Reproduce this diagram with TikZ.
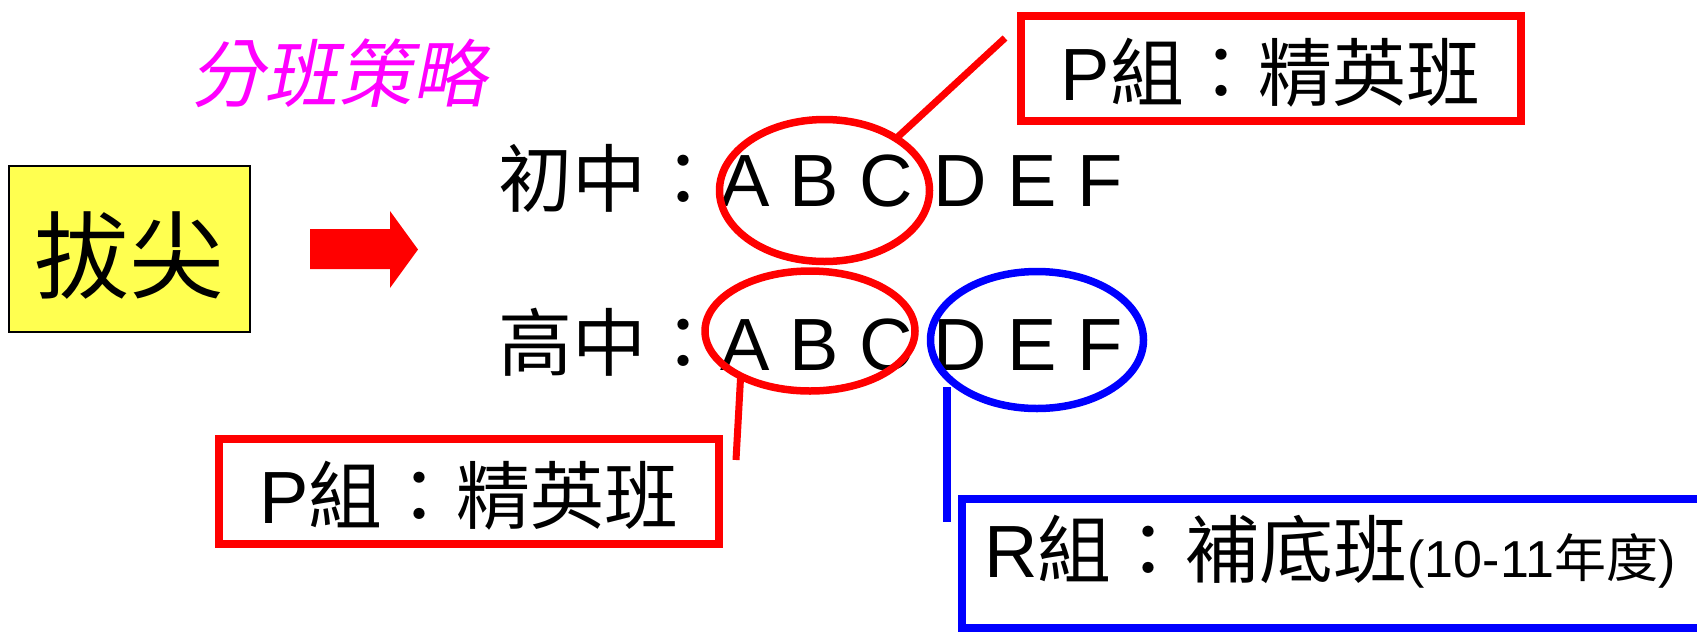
\documentclass[tikz,border=0pt]{standalone}
\usepackage{fontspec}
\setmainfont{Liberation Sans}
\newfontfamily\cjk{Noto Sans CJK TC}
\newfontfamily\cjkit[FakeSlant=0.2]{Noto Sans CJK TC}
\usetikzlibrary{shapes.geometric}
\definecolor{pyellow}{RGB}{255,255,80}
\definecolor{pmagenta}{RGB}{255,0,255}
\definecolor{pred}{RGB}{255,0,0}
\definecolor{pblue}{RGB}{0,0,255}
\tikzset{
  redbox/.style={draw=pred, line width=8pt, minimum width=500pt, minimum height=105pt,
    inner sep=0pt, outer sep=0pt, text height=64pt, text depth=0pt,
    font=\fontsize{74}{74}\selectfont},
  rowtext/.style={anchor=base west, inner sep=0pt, outer sep=0pt,
    font=\fontsize{74}{74}\selectfont},
  ringred/.style={ellipse, draw=pred, line width=7.5pt, inner sep=0pt, outer sep=0pt},
  ringblue/.style={ellipse, draw=pblue, line width=7.5pt, inner sep=0pt, outer sep=0pt},
  redline/.style={draw=pred, line width=7pt},
  blueline/.style={draw=pblue, line width=8pt},
}
\begin{document}
\begin{tikzpicture}[x=1pt,y=-1pt]
\clip (0,0) rectangle (1697,633);
% left box
\node[draw=black, line width=2.5pt, fill=pyellow, minimum width=241pt, minimum height=166pt,
  inner sep=0pt, outer sep=0pt, text height=84pt, text depth=0pt,
  font=\cjk\fontsize{95}{95}\selectfont] (bajian) at (129.5,249) {拔尖};
% title
\node[anchor=base west, inner sep=0pt, text=pmagenta, font=\cjkit\fontsize{74}{74}\selectfont]
  (title) at (190,101) {分班策略};
% block arrow
\fill[pred] (310,229) -- (390,229) -- (390,211) -- (418,249.5) -- (390,288) -- (390,269) -- (310,269) -- cycle;
% rows
\node[rowtext] (row1) at (498,206) {{\cjk 初中：}A B C D E F};
\node[rowtext] (row2) at (498,370) {{\cjk 高中：}A B C D E F};
% rings
\node[ringred, minimum width=210pt, minimum height=142pt] (e1) at (824.5,190.5) {};
\node[ringred, minimum width=210pt, minimum height=120pt] (e2) at (810,331) {};
\node[ringblue, minimum width=213pt, minimum height=137pt] (e3) at (1037,340) {};
% boxes
\node[redbox] (ptop) at (1270.5,68) {P{\cjk 組：精英班}};
\node[redbox] (pbot) at (469,491) {P{\cjk 組：精英班}};
\node[draw=pblue, line width=8pt, minimum width=800pt, minimum height=129pt,
  inner sep=0pt, outer sep=0pt] (rbox) at (1362,563.5) {};
\node[anchor=base west, inner sep=0pt, font=\fontsize{74}{74}\selectfont] (rtext) at (984,577)
  {R{\cjk 組：補底班}{\fontsize{52}{52}\selectfont(10-11{\cjk 年度})}};
% connectors
\coordinate (ptopend) at (1005,38);
\coordinate (pbotend) at (736,460);
\coordinate (b1) at (947,387);
\coordinate (b2) at (947,522);
\draw[redline] (e1.36) -- (ptopend);
\draw[redline] (e2.213) -- (pbotend);
\draw[blueline] (b1) -- (b2);
\end{tikzpicture}
\end{document}
